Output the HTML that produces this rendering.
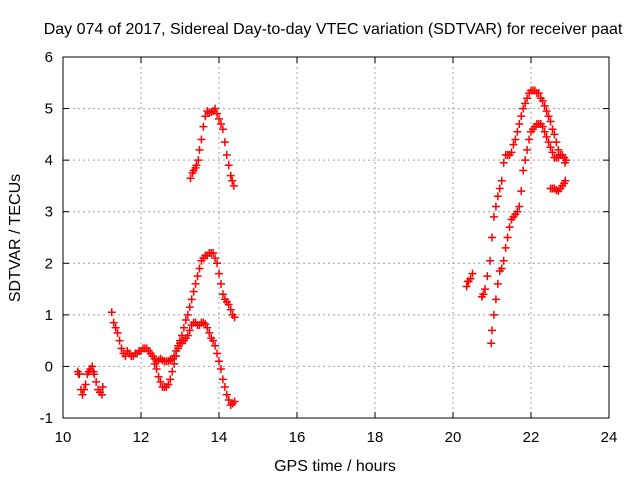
<!DOCTYPE html>
<html><head><meta charset="utf-8"><style>
body{margin:0;background:#fff;}
svg{display:block;font-family:"Liberation Sans",sans-serif;}
</style></head><body>
<svg id="chart" width="640" height="480">
<text x="333" y="34" font-size="16" text-anchor="middle">Day 074 of 2017, Sidereal Day-to-day VTEC variation (SDTVAR) for receiver paat</text>
<text x="335" y="471" font-size="16" text-anchor="middle">GPS time / hours</text>
<text transform="translate(20,238) rotate(-90)" font-size="16" text-anchor="middle">SDTVAR / TECUs</text>
<g id="grid"></g><g id="axes"></g><g id="marks"></g>
</svg>
<script>
const xTicks=[10,12,14,16,18,20,22,24];
const yTicks=[-1,0,1,2,3,4,5,6];
const segA_h=[10.38,10.4,10.42,10.46,10.5,10.54,10.58,10.62,10.66,10.7,10.75,10.78,10.8,10.85,10.9,10.95,11.0,11.02];
const segA_v=[-0.1,-0.15,-0.15,-0.45,-0.55,-0.45,-0.35,-0.15,-0.1,-0.05,0.0,-0.1,-0.15,-0.3,-0.45,-0.5,-0.55,-0.4];
const segB_h=[11.25,11.3,11.35,11.4,11.45,11.5,11.55,11.6,11.65,11.7,11.75,11.8,11.85,11.9,11.95,12.0,12.05,12.1,12.15,12.2,12.25,12.3,12.35,12.4,12.45,12.5,12.55,12.6,12.65,12.7,12.75,12.8,12.85,12.9,12.95,13.0,13.05,13.1,13.15,13.2,13.25,13.3,13.35,13.4,13.45,13.5,13.55,13.6,13.65,13.7,13.75,13.8,13.85,13.9,13.95,14.0,14.05,14.1,14.15,14.2,14.25,14.3,14.35,14.4];
const segB_v=[1.05,0.85,0.75,0.65,0.5,0.35,0.25,0.2,0.3,0.25,0.2,0.2,0.25,0.25,0.3,0.3,0.35,0.35,0.35,0.3,0.25,0.2,0.15,0.1,0.12,0.15,0.12,0.1,0.1,0.1,0.12,0.15,0.2,0.3,0.4,0.45,0.45,0.5,0.55,0.6,0.7,0.8,0.85,0.85,0.8,0.8,0.85,0.85,0.82,0.75,0.65,0.55,0.5,0.4,0.25,0.1,-0.05,-0.25,-0.4,-0.55,-0.65,-0.75,-0.72,-0.68];
const segC_h=[12.3,12.35,12.4,12.45,12.5,12.55,12.6,12.65,12.7,12.75,12.8,12.85,12.9,12.95,13.0,13.05,13.1,13.15,13.2,13.25,13.3,13.35,13.4,13.45,13.5,13.55,13.6,13.65,13.7,13.75,13.8,13.85,13.9,13.95,14.0,14.05,14.1,14.15,14.2,14.25,14.3,14.35,14.4];
const segC_v=[0.2,0.05,-0.05,-0.2,-0.3,-0.4,-0.4,-0.4,-0.35,-0.25,-0.1,0.05,0.2,0.35,0.5,0.6,0.75,0.9,1.0,1.15,1.3,1.45,1.6,1.75,1.9,2.05,2.1,2.15,2.15,2.2,2.2,2.2,2.1,2.0,1.8,1.6,1.4,1.3,1.25,1.2,1.1,1.0,0.95];
const segD_h=[13.27,13.32,13.35,13.4,13.42,13.47,13.5,13.55,13.6,13.65,13.7,13.75,13.8,13.85,13.9,13.95,14.0,14.05,14.1,14.15,14.2,14.25,14.3,14.34,14.38];
const segD_v=[3.65,3.75,3.8,3.85,3.9,4.0,4.2,4.4,4.65,4.85,4.95,4.92,4.93,4.95,5.0,4.9,4.8,4.7,4.6,4.35,4.1,3.9,3.7,3.6,3.5];
const segE_h=[20.35,20.38,20.4,20.45,20.5];
const segE_v=[1.55,1.65,1.65,1.7,1.8];
const segF_h=[20.74,20.78,20.82,20.88,20.95,21.0,21.05,21.1,21.15,21.2,21.25,21.3,21.35,21.4,21.45,21.5,21.55,21.6,21.65,21.7,21.75,21.8,21.85,21.9,21.95,22.0,22.05,22.1,22.15,22.2,22.25,22.3,22.35,22.4,22.45,22.5,22.55,22.6,22.65,22.7,22.75,22.8,22.85,22.9];
const segF_v=[1.35,1.4,1.5,1.75,2.05,2.5,2.9,3.1,3.3,3.45,3.6,3.95,4.1,4.1,4.1,4.15,4.3,4.4,4.55,4.7,4.85,5.0,5.1,5.2,5.3,5.35,5.35,5.35,5.3,5.3,5.2,5.15,5.05,4.95,4.85,4.75,4.6,4.5,4.35,4.2,4.1,4.1,4.05,4.0];
const segG_h=[20.98,21.0,21.05,21.1,21.15,21.2,21.25,21.3,21.35,21.4,21.45,21.5,21.55,21.6,21.65,21.7,21.75,21.8,21.85,21.9,21.95,22.0,22.05,22.1,22.15,22.2,22.25,22.3,22.35,22.4,22.45,22.5,22.55,22.6,22.65,22.7,22.75,22.8,22.87];
const segG_v=[0.45,0.7,1.0,1.3,1.6,1.85,1.9,2.05,2.3,2.5,2.7,2.85,2.9,2.95,3.0,3.1,3.4,3.8,4.0,4.2,4.4,4.55,4.6,4.65,4.7,4.7,4.7,4.65,4.55,4.45,4.35,4.25,4.15,4.05,4.05,4.05,4.1,4.1,3.95];
const segH_h=[22.5,22.55,22.6,22.65,22.7,22.75,22.8,22.85,22.88];
const segH_v=[3.45,3.45,3.45,3.42,3.4,3.45,3.5,3.55,3.6];
const L=63,R=609,T=57,B=418;
function xs(h){return L+(h-10)/14*(R-L);}
function ys(v){return B-(v+1)/7*(B-T);}
const NS='http://www.w3.org/2000/svg';
function mk(tag,attrs,parent){const e=document.createElementNS(NS,tag);for(const k in attrs)e.setAttribute(k,attrs[k]);parent.appendChild(e);return e;}
const grid=document.getElementById('grid'),axes=document.getElementById('axes'),marks=document.getElementById('marks');
xTicks.forEach(t=>{const x=xs(t);
 if(t>10&&t<24){const g=mk('line',{x1:x,x2:x,y1:T,y2:B,stroke:'#a0a0a0','stroke-dasharray':'2,3'},grid);
 
 }
 mk('line',{x1:x,x2:x,y1:B,y2:B-6,stroke:'#000'},axes);
 mk('line',{x1:x,x2:x,y1:T,y2:T+6,stroke:'#000'},axes);
 const tx=mk('text',{x:x,y:B+24,'font-size':15,'text-anchor':'middle'},axes);tx.textContent=t;
 
 });
yTicks.forEach(t=>{const y=ys(t);
 if(t>-1&&t<6){const g=mk('line',{x1:L,x2:R,y1:y,y2:y,stroke:'#a0a0a0','stroke-dasharray':'2,3'},grid);
 
 }
 mk('line',{x1:L,x2:L+6,y1:y,y2:y,stroke:'#000'},axes);
 mk('line',{x1:R,x2:R-6,y1:y,y2:y,stroke:'#000'},axes);
 const tx=mk('text',{x:L-10,y:y+5,'font-size':15,'text-anchor':'end'},axes);tx.textContent=t;
 
 });
const fr=mk('rect',{x:L,y:T,width:R-L,height:B-T,fill:'none',stroke:'#000'},axes);


const segs=[[segA_h,segA_v],[segB_h,segB_v],[segC_h,segC_v],[segD_h,segD_v],[segE_h,segE_v],[segF_h,segF_v],[segG_h,segG_v],[segH_h,segH_v]];
segs.forEach(([hs,vs])=>{hs.forEach((h,i)=>{const x=xs(h),y=ys(vs[i]);
 const p=mk('path',{d:`M${x-4},${y}H${x+4}M${x},${y-4}V${y+4}`,stroke:'#f00','stroke-width':1.5,fill:'none'},marks);
 
 });});
</script>
</body></html>
